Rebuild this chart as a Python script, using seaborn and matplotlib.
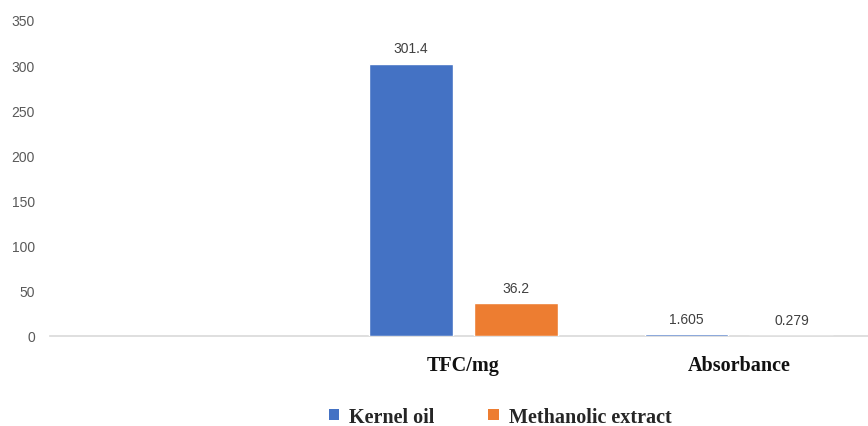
import numpy as np
import pandas as pd
import matplotlib.pyplot as plt
import seaborn as sns
from matplotlib.patches import Patch

categories = ["", "TFC/mg", "Absorbance"]
kernel_oil = [np.nan, 301.4, 1.605]
methanolic_extract = [np.nan, 36.2, 0.279]
series_names = ["Kernel oil", "Methanolic extract"]
colors = ["#4472C4", "#ED7D31"]

df = pd.DataFrame({
    "category": categories * 2,
    "value": kernel_oil + methanolic_extract,
    "series": [series_names[0]] * 3 + [series_names[1]] * 3,
})

sns.set_theme(style="white")
fig = plt.figure(figsize=(8.68, 4.27), dpi=100)
ax = fig.add_axes([0.058, 0.211, 0.952, 0.740])

sns.barplot(data=df, x="category", y="value", hue="series", order=categories,
            hue_order=series_names, palette=colors, saturation=1,
            width=0.762, gap=0.2, errorbar=None, legend=False, ax=ax, zorder=3)

for cont in ax.containers:
    ax.bar_label(cont, fmt="{:g}", padding=6, fontsize=10, color="#404040",
                 family="Liberation Sans")

ax.set_ylim(0, 350)
ax.set_yticks(np.arange(0, 351, 50))
ax.set_xlim(-0.5, 2.5)
ax.set_xlabel("")
ax.set_ylabel("")
ax.tick_params(axis="y", length=0, labelsize=10, labelcolor="#595959", pad=11)
ax.tick_params(axis="x", length=0, pad=14)
for lbl in ax.get_yticklabels():
    lbl.set_family("Liberation Sans")
for lbl in ax.get_xticklabels():
    lbl.set_family("Liberation Serif")
    lbl.set_fontweight("bold")
    lbl.set_fontsize(14.5)
    lbl.set_color("#111111")

for side in ["top", "right", "left"]:
    ax.spines[side].set_visible(False)
ax.spines["bottom"].set_color("#D9D9D9")
ax.spines["bottom"].set_linewidth(1.2)

handles = [Patch(facecolor=c, edgecolor="none") for c in colors]
fig.legend(handles, series_names, loc="center", bbox_to_anchor=(0.576, 0.022),
           ncol=2, frameon=False, handlelength=0.5, handleheight=0.5,
           handletextpad=0.5, columnspacing=2.7,
           prop={"family": "Liberation Serif", "weight": "bold", "size": 14.5})

fig.savefig("out.png", dpi=100)
